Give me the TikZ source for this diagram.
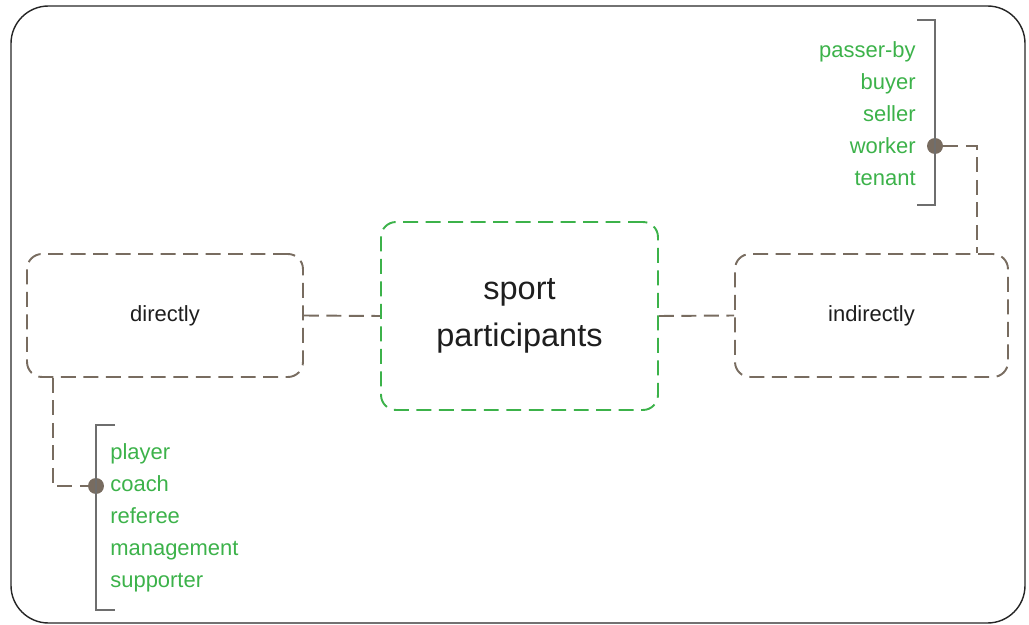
\documentclass[tikz,border=0pt]{standalone}
\usepackage{fontspec}
\setmainfont{Liberation Sans}
\definecolor{dashbrown}{RGB}{120,108,96}
\definecolor{lgreen}{RGB}{60,178,74}
\definecolor{brgray}{RGB}{110,110,110}
\definecolor{txtdark}{RGB}{30,30,30}
\begin{document}
\begin{tikzpicture}[x=0.02cm,y=-0.02cm,
  conn/.style={draw=dashbrown,line width=1.1pt,dash pattern=on 8.5pt off 4.3pt},
  brownbox/.style={draw=dashbrown,line width=1.1pt,dash pattern=on 8.5pt off 4.3pt,rounded corners=0.3cm,text=txtdark,font=\fontsize{12.5}{15}\selectfont},
  greenbox/.style={draw=lgreen,line width=1.1pt,dash pattern=on 8.5pt off 4.3pt,rounded corners=0.3cm,text=txtdark,font=\fontsize{18.5}{26.7}\selectfont,align=center},
  dotnode/.style={circle,fill=dashbrown,inner sep=0pt,minimum size=0.32cm},
  listtext/.style={text=lgreen,font=\fontsize{12.5}{18.2}\selectfont,inner sep=0pt},
  bracket/.style={draw=brgray,line width=0.8pt}]
\useasboundingbox (0,0) rectangle (1029,625);
\draw[line width=0.8pt,draw=black!85,rounded corners=0.75cm] (11,6) rectangle (1025,623);
\node[brownbox,minimum width=5.52cm,minimum height=2.46cm,text depth=0.06cm] (dir) at (165,315.5) {directly};
\node[greenbox,minimum width=5.54cm,minimum height=3.76cm] (sp) at (519.5,316) {sport\\participants};
\node[brownbox,minimum width=5.46cm,minimum height=2.46cm,text depth=0.06cm] (ind) at (871.5,315.5) {indirectly};
\draw[conn] (dir.east) -- (sp.west);
\draw[conn] (sp.east) -- (ind.west);
% left list
\node[dotnode] (dot1) at (96,486) {};
\coordinate (c1) at (53,486);
\draw[conn] (dir.south -| c1) |- (dot1);
\coordinate (b1a) at (115,425);
\coordinate (b1b) at (96,425);
\coordinate (b1c) at (96,610);
\coordinate (b1d) at (115,610);
\draw[bracket] (b1a) -- (b1b) -- (b1c) -- (b1d);
\node[listtext,align=left,anchor=west] (list1) at (110,518) {player\\coach\\referee\\management\\supporter};
% right list
\node[dotnode] (dot2) at (935,146) {};
\coordinate (c2) at (977,146);
\draw[conn] (dot2) -| (ind.north -| c2);
\coordinate (b2a) at (917,20);
\coordinate (b2b) at (935,20);
\coordinate (b2c) at (935,205);
\coordinate (b2d) at (917,205);
\draw[bracket] (b2a) -- (b2b) -- (b2c) -- (b2d);
\node[listtext,align=right,anchor=east] (list2) at (916,113.5) {passer-by\\buyer\\seller\\worker\\tenant};
\end{tikzpicture}
\end{document}
